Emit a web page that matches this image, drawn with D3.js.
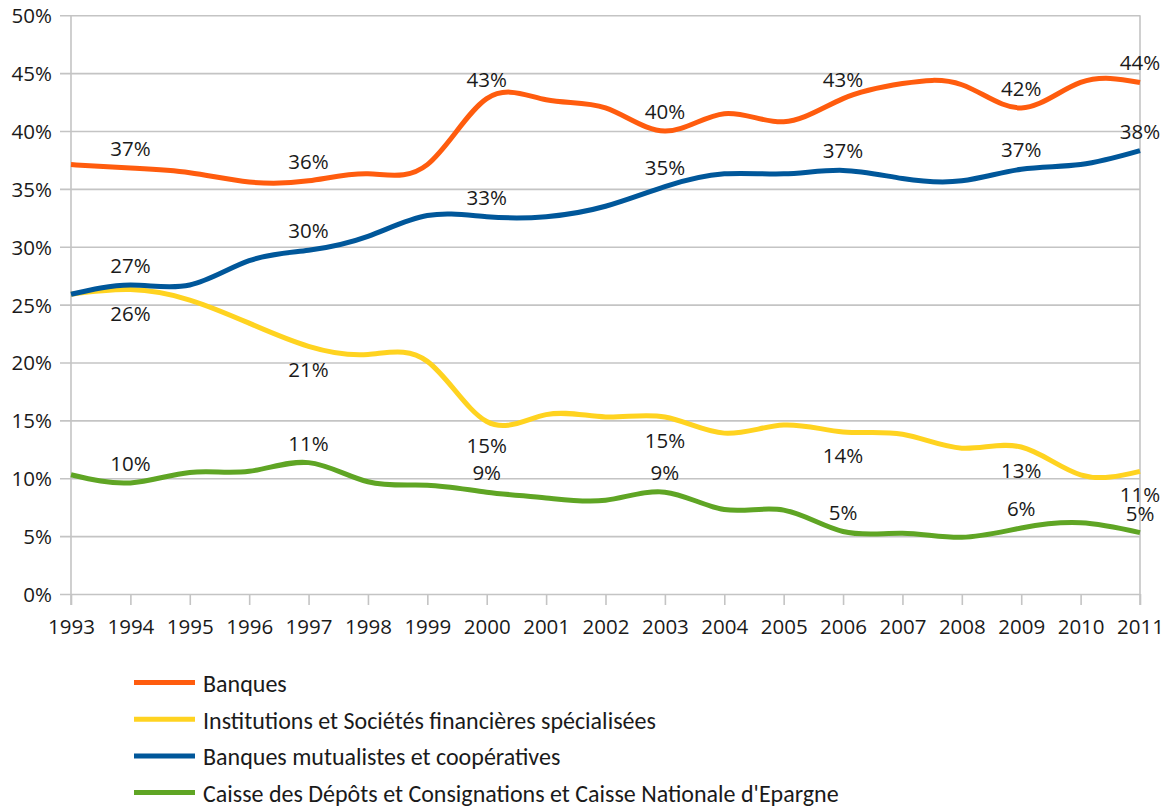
<!DOCTYPE html>
<html>
<head>
<meta charset="utf-8">
<script src="https://cdn.jsdelivr.net/npm/d3@7"></script>
<style>
  html, body { margin: 0; padding: 0; background: #ffffff; }
  svg { display: block; }
</style>
</head>
<body>
<svg id="chart" width="1170" height="807"></svg>
<script>
// Years on the horizontal axis
const years = [1993, 1994, 1995, 1996, 1997, 1998, 1999, 2000, 2001, 2002,
               2003, 2004, 2005, 2006, 2007, 2008, 2009, 2010, 2011];

// Share of each category of institution (%)
const banques = [37.1, 36.8, 36.4, 35.6, 35.7, 36.3, 37.1, 42.8, 42.7, 42.0,
                 40.0, 41.5, 40.8, 42.8, 44.1, 44.0, 42.0, 44.2, 44.2];
const institutions = [25.9, 26.3, 25.4, 23.4, 21.4, 20.7, 20.1, 14.9, 15.5, 15.3,
                      15.3, 13.9, 14.6, 14.0, 13.8, 12.6, 12.7, 10.3, 10.6];
const mutualistes = [25.9, 26.7, 26.7, 28.8, 29.7, 30.9, 32.7, 32.6, 32.6, 33.5,
                     35.2, 36.3, 36.3, 36.6, 35.9, 35.7, 36.7, 37.1, 38.3];
const caisse = [10.3, 9.6, 10.5, 10.6, 11.35, 9.7, 9.4, 8.8, 8.3, 8.1,
                8.8, 7.3, 7.25, 5.4, 5.25, 4.9, 5.7, 6.15, 5.3];

const seriesNames = ["Banques",
                     "Institutions et Sociétés financières spécialisées",
                     "Banques mutualistes et coopératives",
                     "Caisse des Dépôts et Consignations et Caisse Nationale d'Epargne"];
const seriesValues = [banques, institutions, mutualistes, caisse];
const seriesColors = ["#ff5c0e", "#ffd320", "#00579a", "#5fa524"];

// Years that carry a value label
const labelYears = [1994, 1997, 2000, 2003, 2006, 2009, 2011];
// Label placement: above the line, except for the second series
const labelBelow = [false, true, false, false];

const yTicks = [0, 5, 10, 15, 20, 25, 30, 35, 40, 45, 50];

const svg = d3.select("#chart");
const plotLeft = 71, plotRight = 1140, plotTop = 15.3, plotBottom = 594;

const x = d3.scaleLinear().domain([1993, 2011]).range([plotLeft, plotRight]);
const y = d3.scaleLinear().domain([0, 50]).range([plotBottom, plotTop]);

const axisColor = "#c4c4c4";
const textFont = "'Open Sans', 'DejaVu Sans', sans-serif";

// Horizontal grid lines with small ticks on the left
const grid = svg.append("g")
  .attr("transform", `translate(${plotLeft},0)`)
  .call(d3.axisLeft(y).tickValues(yTicks).tickSize(-(plotRight - plotLeft)).tickSizeOuter(0)
        .tickFormat(d => d + "%"));
grid.select(".domain").remove();
grid.selectAll(".tick line").attr("stroke", axisColor).attr("stroke-width", 1.6).attr("x1", -11);
grid.selectAll(".tick text")
  .attr("font-family", textFont).attr("font-size", 20.5).attr("fill", "#1a1a1a")
  .attr("x", -19).attr("dy", "0.36em");

// Vertical frame lines on both sides of the plot
[plotLeft, plotRight].forEach(px => {
  svg.append("line")
    .attr("x1", px).attr("x2", px).attr("y1", plotTop).attr("y2", plotBottom + 11)
    .attr("stroke", axisColor).attr("stroke-width", 1.6);
});

// Horizontal axis with year labels
const xAxis = svg.append("g")
  .attr("transform", `translate(0,${plotBottom})`)
  .call(d3.axisBottom(x).tickValues(years).tickFormat(d3.format("d")).tickSize(11).tickSizeOuter(0).tickPadding(14));
xAxis.select(".domain").remove();
xAxis.selectAll(".tick line").attr("stroke", axisColor).attr("stroke-width", 1.6);
xAxis.selectAll(".tick text")
  .attr("font-family", textFont).attr("font-size", 20.5).attr("fill", "#1a1a1a");

// Smooth lines
const line = d3.line()
  .x((d, i) => x(years[i]))
  .y(d => y(d))
  .curve(d3.curveNatural);

seriesValues.forEach((vals, s) => {
  svg.append("path")
    .datum(vals)
    .attr("fill", "none")
    .attr("stroke", seriesColors[s])
    .attr("stroke-width", 5)
    .attr("stroke-linejoin", "round")
    .attr("d", line);
});

// Value labels
seriesValues.forEach((vals, s) => {
  labelYears.forEach(yr => {
    const i = years.indexOf(yr);
    const v = vals[i];
    svg.append("text")
      .attr("x", x(yr))
      .attr("y", y(v) + (labelBelow[s] ? 23 : -20))
      .attr("text-anchor", "middle")
      .attr("dominant-baseline", "central")
      .attr("font-family", textFont)
      .attr("font-size", 20.5)
      .attr("fill", "#1a1a1a")
      .text(Math.round(v) + "%");
  });
});

// Legend
const legend = svg.append("g").attr("transform", "translate(134,682.5)");
seriesNames.forEach((name, s) => {
  const g = legend.append("g").attr("transform", `translate(0,${s * 36.7})`);
  g.append("line")
    .attr("x1", 0).attr("x2", 61).attr("y1", 0).attr("y2", 0)
    .attr("stroke", seriesColors[s]).attr("stroke-width", 5);
  g.append("text")
    .attr("x", 69).attr("y", 1)
    .attr("dominant-baseline", "central")
    .attr("font-family", "Carlito, Lato, 'Open Sans', sans-serif")
    .attr("font-size", 24)
    .attr("fill", "#1a1a1a")
    .text(name);
});
</script>
</body>
</html>
